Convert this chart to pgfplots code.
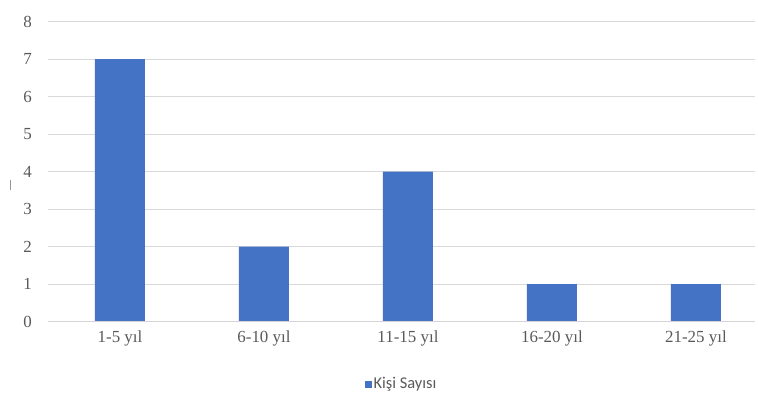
\documentclass[border=0pt]{standalone}
\usepackage{pgfplots}
\pgfplotsset{compat=1.18}
\usepackage{fontspec}
\setmainfont{Liberation Serif}
\newfontfamily\carlito{Carlito}
\definecolor{barblue}{HTML}{4472C4}
\definecolor{txtgrey}{HTML}{595959}
\definecolor{gridgrey}{HTML}{D9D9D9}
\begin{document}
\begin{tikzpicture}
\path[use as bounding box] (0,0) rectangle (758bp,399bp);
\draw[gridgrey!70!black, line width=0.8bp] (10.5bp,209bp) -- (10.5bp,219bp);
\begin{axis}[
  at={(48bp,77.3bp)}, anchor=south west,
  scale only axis, width=707bp, height=300bp,
  xmin=-0.5, xmax=4.41, ymin=0, ymax=8,
  ytick={0,1,...,8},
  xtick={0,1,2,3,4},
  xticklabels={1-5 yıl,6-10 yıl,11-15 yıl,16-20 yıl,21-25 yıl},
  major tick length=0pt,
  axis line style={draw=none},
  ymajorgrids, grid style={gridgrey, line width=0.8bp},
  /pgf/number format/assume math mode=true,
  ticklabel style={font=\fontsize{17}{17}\selectfont, text=txtgrey},
  yticklabel style={anchor=east, inner sep=0pt, xshift=-16bp},
  xticklabel style={anchor=north, inner sep=0pt, yshift=-9bp},
  legend style={at={(0.5,-0.2077)}, anchor=center, draw=none, fill=none,
    font=\carlito\fontsize{16.5}{16.5}\selectfont, text=txtgrey,
    legend cell align=left, inner sep=0pt},
  legend image code/.code={\fill[barblue] (0bp,-3.5bp) rectangle (7bp,3.5bp);},
]
\addplot[ybar, bar width=50bp, fill=barblue, draw=none] coordinates {
  (0,7) (1,2) (2,4) (3,1) (4,1)
};
\addlegendentry{Kişi Sayısı}
\draw[color=gridgrey!85!black!60, line width=0.8bp] (axis cs:-0.5,0) -- (axis cs:4.41,0);
\end{axis}
\end{tikzpicture}
\end{document}
